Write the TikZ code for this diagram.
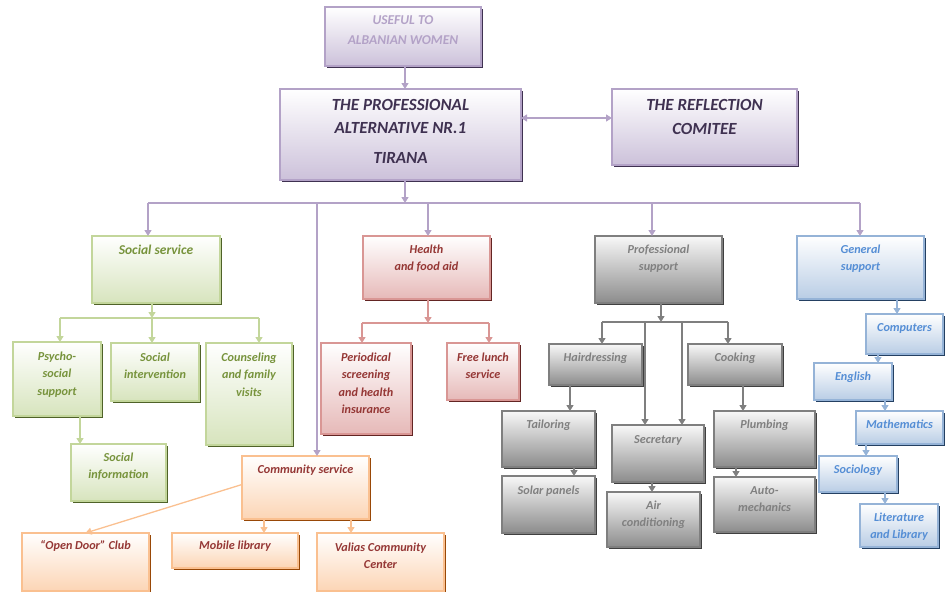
\documentclass[tikz,border=0pt]{standalone}
\usepackage{fontspec}
\setmainfont{Carlito}
\usetikzlibrary{arrows.meta,shadows}
\definecolor{pline}{HTML}{B3A2C7}
\definecolor{pfill}{HTML}{CCC1DA}
\definecolor{pshad}{HTML}{3F3151}
\definecolor{ptext}{HTML}{3F3151}
\definecolor{gline}{HTML}{C3D69B}
\definecolor{gfill}{HTML}{D7E4BD}
\definecolor{gshad}{HTML}{4F6228}
\definecolor{gtext}{HTML}{77933C}
\definecolor{rline}{HTML}{D99694}
\definecolor{rfill}{HTML}{E6B9B8}
\definecolor{rshad}{HTML}{632523}
\definecolor{rtext}{HTML}{953735}
\definecolor{kline}{HTML}{7F7F7F}
\definecolor{kfilltop}{HTML}{F8F8F8}
\definecolor{kfill}{HTML}{8C8C8C}
\definecolor{kshad}{HTML}{404040}
\definecolor{ktext}{HTML}{808080}
\definecolor{bline}{HTML}{95B3D7}
\definecolor{bfill}{HTML}{B9CDE5}
\definecolor{bshad}{HTML}{244062}
\definecolor{btext}{HTML}{558ED5}
\definecolor{oline}{HTML}{FAC090}
\definecolor{ofill}{HTML}{FCD5B5}
\definecolor{oshad}{HTML}{984807}
\newcommand{\bt}[4][17.5]{\parbox[t][#3pt][t]{#2pt}{\centering\rule{0pt}{#1pt}#4}}
\tikzset{
  boxbase/.style={inner sep=0pt, outer sep=0pt, anchor=north west, line width=1.2pt,
    font=\bfseries\itshape\fontsize{12.2}{17.5}\selectfont},
  pbx/.style={boxbase, draw=pline, top color=white, bottom color=pfill, text=ptext,
    general shadow={fill=pshad, shadow xshift=2pt, shadow yshift=-2pt}},
  gbx/.style={boxbase, draw=gline, top color=white, bottom color=gfill, text=gtext,
    general shadow={fill=gshad, shadow xshift=2pt, shadow yshift=-2pt}},
  rbx/.style={boxbase, draw=rline, top color=white, bottom color=rfill, text=rtext,
    general shadow={fill=rshad, shadow xshift=2pt, shadow yshift=-2pt}},
  kbx/.style={boxbase, draw=kline, top color=kfilltop, bottom color=kfill, text=ktext,
    general shadow={fill=kshad, shadow xshift=2pt, shadow yshift=-2pt}},
  bbx/.style={boxbase, draw=bline, top color=white, bottom color=bfill, text=btext,
    general shadow={fill=bshad, shadow xshift=2pt, shadow yshift=-2pt}},
  obx/.style={boxbase, draw=oline, top color=white, bottom color=ofill, text=rtext,
    general shadow={fill=oshad, shadow xshift=2pt, shadow yshift=-2pt}},
  tip/.style={-{Triangle[width=7pt,length=6pt]}},
  pc/.style={draw=pline, line width=1.3pt},
  gc/.style={draw=gline, line width=1.3pt},
  rc/.style={draw=rline, line width=1.3pt},
  kc/.style={draw=kline, line width=1.3pt},
  bc/.style={draw=bline, line width=1.3pt},
  oc/.style={draw=oline, line width=1.3pt},
}
\begin{document}
\begin{tikzpicture}[x=1pt,y=-1pt]
\useasboundingbox (0,0) rectangle (946,592);
% top
\node[pbx, text=pline, font=\bfseries\itshape\fontsize{13.5}{20}\selectfont] (useful) at (325,7) {\bt[17]{156}{59}{USEFUL TO\\ALBANIAN WOMEN}};
\node[pbx, font=\bfseries\itshape\fontsize{17}{23}\selectfont] (main) at (280,89) {\bt[21]{241}{91}{THE PROFESSIONAL\\ALTERNATIVE NR.1\\[7pt]TIRANA}};
\node[pbx, font=\bfseries\itshape\fontsize{17}{24}\selectfont] (refl) at (612,89) {\bt[21]{185}{76}{THE REFLECTION\\COMITEE}};
% green
\node[gbx, font=\bfseries\itshape\fontsize{13.5}{17.5}\selectfont] (ss) at (92,236) {\bt[18]{128}{67}{Social service}};
\node[gbx] (psy) at (13,342) {\bt[18]{88}{74}{Psycho-\\social\\support}};
\node[gbx] (si) at (111,343) {\bt[18]{88}{58}{Social\\intervention}};
\node[gbx] (cfv) at (206,343) {\bt[18]{86}{102}{Counseling\\and family\\visits}};
\node[gbx] (sinf) at (71,444) {\bt[17]{95}{57}{Social\\information}};
% red
\node[rbx] (hf) at (363,236) {\bt[17]{127}{63}{Health\\and food aid}};
\node[rbx] (per) at (321,343) {\bt[18]{90}{91}{Periodical\\screening\\and health\\insurance}};
\node[rbx] (fl) at (447,343) {\bt[18]{72}{57}{Free lunch\\service}};
% gray
\node[kbx] (ps) at (595,236) {\bt[17]{127}{67}{Professional\\support}};
\node[kbx] (hair) at (549,344) {\bt[17]{93}{41}{Hairdressing}};
\node[kbx] (cook) at (688,344) {\bt[17]{94}{41}{Cooking}};
\node[kbx] (tail) at (502,411) {\bt[17]{93}{56}{Tailoring}};
\node[kbx] (sol) at (502,476) {\bt[18]{93}{57}{Solar panels}};
\node[kbx] (sec) at (612,425) {\bt[18]{92}{57}{Secretary}};
\node[kbx] (air) at (607,492) {\bt[17]{93}{55}{Air\\conditioning}};
\node[kbx] (plu) at (714,411) {\bt[17]{101}{56}{Plumbing}};
\node[kbx] (auto) at (714,477) {\bt[17]{101}{55}{Auto-\\mechanics}};
% blue
\node[bbx] (gen) at (797,236) {\bt[17]{127}{63}{General\\support}};
\node[bbx] (comp) at (866,314) {\bt[17]{77}{40}{Computers}};
\node[bbx] (eng) at (814,363) {\bt[17]{78}{37}{English}};
\node[bbx] (math) at (856,411) {\bt[17]{87}{33}{Mathematics}};
\node[bbx] (soc) at (819,456) {\bt[17]{78}{36}{Sociology}};
\node[bbx] (lit) at (860,504) {\bt[17]{78}{43}{Literature\\and Library}};
% orange
\node[obx] (cs) at (242,456) {\bt[17]{127}{63}{Community service}};
\node[obx] (od) at (22,533) {\bt[16]{127}{58}{“Open Door” Club}};
\node[obx] (mob) at (172,533) {\bt[16]{126}{35}{Mobile library}};
\node[obx] (val) at (317,533) {\bt[18]{127}{58}{Valias Community\\Center}};
% purple connectors
\coordinate (xu) at (405,0);
\coordinate (yr) at (0,118);
\coordinate (bus0) at (148,203);
\coordinate (bus1) at (860,203);
\coordinate (busm) at (405,203);
\coordinate (busc) at (317,203);
\coordinate (bush) at (428,203);
\coordinate (busp) at (652,203);
\draw[pc,tip] (xu |- useful.south) -- (xu |- main.north);
\draw[pc,{Triangle[width=7pt,length=6pt]}-{Triangle[width=7pt,length=6pt]}] (yr -| main.east) -- (yr -| refl.west);
\draw[pc] (bus0) -- (bus1);
\draw[pc,tip] (busm |- main.south) -- (busm);
\draw[pc,tip] (bus0) -- (bus0 |- ss.north);
\draw[pc,tip] (busc) -- (busc |- cs.north);
\draw[pc,tip] (bush) -- (bush |- hf.north);
\draw[pc,tip] (busp) -- (busp |- ps.north);
\draw[pc,tip] (bus1) -- (bus1 |- gen.north);
% green connectors
\coordinate (g0) at (60,318);
\coordinate (g1) at (259,318);
\coordinate (gm) at (152,318);
\coordinate (xg) at (80,0);
\draw[gc] (g0) -- (g1);
\draw[gc,tip] (gm |- ss.south) -- (gm);
\draw[gc,tip] (g0) -- (g0 |- psy.north);
\draw[gc,tip] (gm) -- (gm |- si.north);
\draw[gc,tip] (g1) -- (g1 |- cfv.north);
\draw[gc,tip] (xg |- psy.south) -- (xg |- sinf.north);
% red connectors
\coordinate (r0) at (362,323);
\coordinate (r1) at (489,323);
\coordinate (rm) at (428,323);
\draw[rc] (r0) -- (r1);
\draw[rc,tip] (rm |- hf.south) -- (rm);
\draw[rc,tip] (r0) -- (r0 |- per.north);
\draw[rc,tip] (r1) -- (r1 |- fl.north);
% gray connectors
\coordinate (k0) at (602,322);
\coordinate (k1) at (728,322);
\coordinate (km) at (661,322);
\coordinate (ka) at (645,322);
\coordinate (kb) at (682,322);
\coordinate (xha) at (570,0);
\coordinate (xta) at (574,0);
\coordinate (xse) at (652,0);
\coordinate (xco) at (743,0);
\coordinate (xpl) at (736,0);
\draw[kc] (k0) -- (k1);
\draw[kc,tip] (km |- ps.south) -- (km);
\draw[kc,tip] (k0) -- (k0 |- hair.north);
\draw[kc,tip] (k1) -- (k1 |- cook.north);
\draw[kc,tip] (ka) -- (ka |- sec.north);
\draw[kc,tip] (kb) -- (kb |- sec.north);
\draw[kc,tip] (xha |- hair.south) -- (xha |- tail.north);
\draw[kc,tip] (xta |- tail.south) -- (xta |- sol.north);
\draw[kc,tip] (xse |- sec.south) -- (xse |- air.north);
\draw[kc,tip] (xco |- cook.south) -- (xco |- plu.north);
\draw[kc,tip] (xpl |- plu.south) -- (xpl |- auto.north);
% blue connectors
\coordinate (xb1) at (897,0);
\coordinate (xb2) at (878,0);
\coordinate (xb3) at (885,0);
\coordinate (xb4) at (866,0);
\draw[bc,tip] (xb1 |- gen.south) -- (xb1 |- comp.north);
\draw[bc,tip] (xb2 |- comp.south) -- (xb2 |- eng.north);
\draw[bc,tip] (xb3 |- eng.south) -- (xb3 |- math.north);
\draw[bc,tip] (xb4 |- math.south) -- (xb4 |- soc.north);
\draw[bc,tip] (xb3 |- soc.south) -- (xb3 |- lit.north);
% orange connectors
\coordinate (xo1) at (264,0);
\coordinate (xo2) at (351,0);
\draw[oc,tip] ([yshift=3pt]cs.west) -- (od.north);
\draw[oc,tip] (xo1 |- cs.south) -- (xo1 |- mob.north);
\draw[oc,tip] (xo2 |- cs.south) -- (xo2 |- val.north);
\end{tikzpicture}
\end{document}
